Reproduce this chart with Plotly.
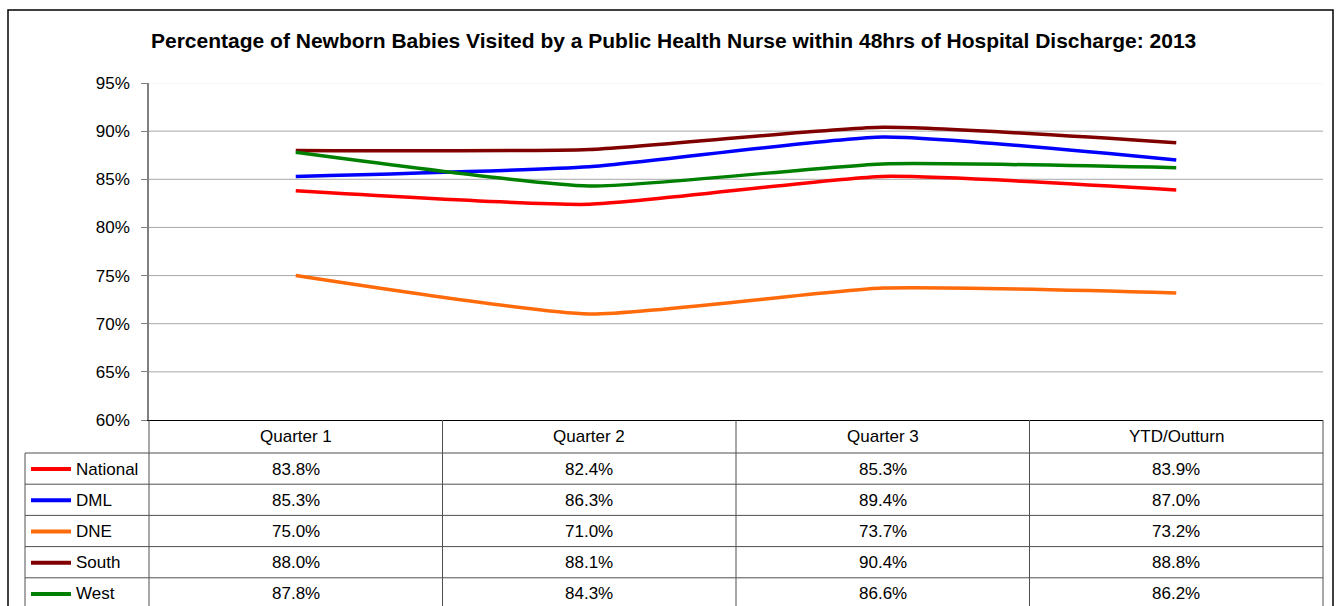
import plotly.graph_objects as go

categories = ["Quarter 1", "Quarter 2", "Quarter 3", "YTD/Outturn"]
series_names = ["National", "DML", "DNE", "South", "West"]
national = [83.8, 82.4, 85.3, 83.9]
dml = [85.3, 86.3, 89.4, 87.0]
dne = [75.0, 71.0, 73.7, 73.2]
south = [88.0, 88.1, 90.4, 88.8]
west = [87.8, 84.3, 86.6, 86.2]
series_values = [national, dml, dne, south, west]
colors = ["#FF0000", "#0000FF", "#FF6A0A", "#800000", "#008000"]
y_ticks = [60, 65, 70, 75, 80, 85, 90, 95]
y_tick_labels = [f"{v}%" for v in y_ticks]
title = "Percentage of Newborn Babies Visited by a Public Health Nurse within 48hrs of Hospital Discharge: 2013"

W, H = 1336, 606
L, R, T, B = 149, 1323, 83, 420
FONT = "Liberation Sans, Arial, sans-serif"


def px(xp):
    return (xp - L) / (R - L)


def py(yp):
    return (B - yp) / (B - T)


fig = go.Figure()
for name, vals, col in zip(series_names, series_values, colors):
    fig.add_trace(go.Scatter(
        x=categories, y=vals, mode="lines", name=name,
        line=dict(color=col, width=3.5, shape="spline", smoothing=0.5),
        showlegend=False, hoverinfo="skip"))

shapes = []
# gridlines (top one faint, as in the reference)
for v in y_ticks[1:]:
    gc = "#EEEEEE" if v == y_ticks[-1] else "#A8A8A8"
    shapes.append(dict(type="line", xref="paper", yref="y", x0=0, x1=1, y0=v, y1=v,
                       line=dict(color=gc, width=1), layer="below"))
# outer frame
shapes.append(dict(type="rect", xref="paper", yref="paper", x0=px(8), x1=px(1333),
                   y0=py(640), y1=py(10), line=dict(color="#000000", width=1.5)))

# table geometry
header_top, header_bot = 420, 453
row_h = 31.2
n_rows = len(series_names)
row_lines = [header_bot + i * row_h for i in range(n_rows + 1)]
ncol = len(categories)
col_edges = [i / ncol for i in range(ncol + 1)]
line_col = "#505050"

for ce in col_edges:
    shapes.append(dict(type="line", xref="paper", yref="paper", x0=ce, x1=ce,
                       y0=py(header_top), y1=py(640), line=dict(color=line_col, width=1)))
for yl in row_lines:
    shapes.append(dict(type="line", xref="paper", yref="paper", x0=px(25), x1=1,
                       y0=py(yl), y1=py(yl), line=dict(color=line_col, width=1)))
shapes.append(dict(type="line", xref="paper", yref="paper", x0=px(25), x1=px(25),
                   y0=py(header_bot), y1=py(640), line=dict(color=line_col, width=1)))

annotations = []
annotations.append(dict(text="<b>" + title + "</b>", xref="paper", yref="paper",
                        x=px(673), y=py(41), showarrow=False, xanchor="center", yanchor="middle",
                        font=dict(family=FONT, size=21, color="#000000")))
for c in categories:
    annotations.append(dict(text=c, xref="x", yref="paper", x=c, y=py((header_top + header_bot) / 2),
                            showarrow=False, xanchor="center", yanchor="middle",
                            font=dict(family=FONT, size=17, color="#000000")))
for i, (name, vals, col) in enumerate(zip(series_names, series_values, colors)):
    yc = row_lines[i] + row_h / 2 + 0.5
    shapes.append(dict(type="line", xref="paper", yref="paper", x0=px(31), x1=px(71),
                       y0=py(yc), y1=py(yc), line=dict(color=col, width=4)))
    annotations.append(dict(text=name, xref="paper", yref="paper", x=px(74), y=py(yc),
                            showarrow=False, xanchor="left", yanchor="middle",
                            font=dict(family=FONT, size=17, color="#000000")))
    for c, v in zip(categories, vals):
        annotations.append(dict(text=f"{v:.1f}%", xref="x", yref="paper", x=c, y=py(yc),
                                showarrow=False, xanchor="center", yanchor="middle",
                                font=dict(family=FONT, size=17, color="#000000")))

fig.update_layout(
    width=W, height=H,
    margin=dict(l=L, r=W - R, t=T, b=H - B, pad=0),
    paper_bgcolor="#FFFFFF", plot_bgcolor="#FFFFFF",
    shapes=shapes, annotations=annotations,
    xaxis=dict(type="category", range=[-0.5, ncol - 0.5], showticklabels=False,
               showgrid=False, zeroline=False, showline=True, linecolor="#000000", linewidth=1,
               ticks=""),
    yaxis=dict(range=[60, 95], tickmode="array", tickvals=y_ticks, ticktext=y_tick_labels,
               showgrid=False, zeroline=False, showline=True,
               linecolor="#808080", linewidth=1.5, ticks="outside", ticklen=6,
               tickcolor="#808080", ticklabelstandoff=8,
               tickfont=dict(family=FONT, size=17, color="#000000")),
)

fig.write_html("out.html", config={"displayModeBar": False},
               post_script="document.body.style.margin='0px';")
